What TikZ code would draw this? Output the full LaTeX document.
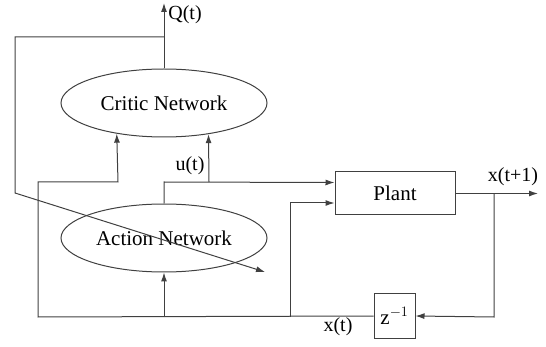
\documentclass[tikz,border=0pt]{standalone}
\usepackage{fontspec}
\setmainfont{Liberation Serif}
\usetikzlibrary{shapes.geometric,arrows.meta}
\tikzset{
  wire/.style={draw=black!75, line width=1pt},
  arr/.style={wire, -{Latex[length=9pt,width=6pt]}},
  net/.style={ellipse, draw=black!75, line width=1pt, minimum width=206pt, minimum height=68pt, inner sep=0pt, font=\fontsize{21}{24}\selectfont},
  box/.style={rectangle, draw=black!75, line width=1pt, inner sep=0pt, font=\fontsize{21}{24}\selectfont},
  lbl/.style={inner sep=0pt, font=\fontsize{20}{24}\selectfont}
}
\begin{document}
\begin{tikzpicture}[x=1pt,y=-1pt]
\useasboundingbox (0,0) rectangle (546,347);
% nodes
\node[net] (critic) at (164,103) {Critic Network};
\node[net] (action) at (164,238) {Action Network};
\node[box, minimum width=120pt, minimum height=43pt] (plant) at (395,193.5) {Plant};
\node[box, minimum width=41pt, minimum height=44pt] (zinv) at (394.5,316) {z$^{-1}$};
% coordinates
\coordinate (qtop) at (164,3);
\coordinate (qj) at (164,37);
\coordinate (qlc) at (15,37);
\coordinate (qd) at (15,193);
\coordinate (qend) at (265,272);
\coordinate (cl1) at (38,317);
\coordinate (cl2) at (38,182);
\coordinate (cl3) at (118,182);
\coordinate (uj) at (164,182);
\coordinate (ub) at (209,182);
\coordinate (bj) at (164,317);
\coordinate (pj) at (290,317);
\coordinate (pj2) at (290,203);
\coordinate (oj) at (494,193.5);
\coordinate (oend) at (538,193.5);
\coordinate (oj2) at (494,317);
% connectors
\draw[arr] (critic.north) -- (qtop);
\draw[arr] (qj) -- (qlc) -- (qd) -- (qend);
\draw[arr] (zinv.west) -- (cl1) -- (cl2) -- (cl3) -- (critic.213.5);
\draw[arr] (action.north) -- (uj) -- (plant.west |- {0,182.5});
\draw[arr] (ub) -- (critic.325.8);
\draw[arr] (bj) -- (action.south);
\draw[arr] (pj) -- (pj2) -- (plant.west |- pj2);
\draw[arr] (plant.east |- oj) -- (oend);
\draw[arr] (oj) -- (oj2) -- (zinv.east);
% labels
\node[lbl] (qlabel) at (185,15) {Q(t)};
\node[lbl] (ul) at (190,166) {u(t)};
\node[lbl] (xl1) at (513,177) {x(t+1)};
\node[lbl] (xl) at (338,327) {x(t)};
\end{tikzpicture}
\end{document}
